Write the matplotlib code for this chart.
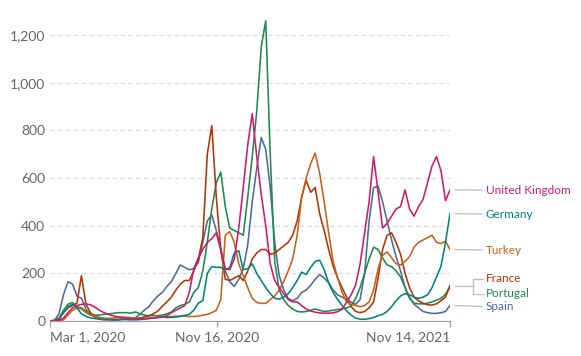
import matplotlib
matplotlib.use("Agg")
import matplotlib.pyplot as plt
import matplotlib.dates as mdates
import pandas as pd
import numpy as np
from matplotlib.lines import Line2D

plt.rcParams['font.family'] = ['Lato', 'DejaVu Sans']

# weekly dates, 2020-03-01 .. 2021-11-14
dates = pd.date_range("2020-03-01", periods=90, freq="7D")

spain = [0.5, 3, 30, 110, 165, 155, 105, 95, 50, 25, 20, 15, 8, 7, 7, 7, 8, 8, 9, 14,
         28, 45, 60, 85, 105, 120, 145, 165, 200, 235, 225, 215, 220, 245, 330, 420, 445, 380, 300, 210,
         165, 145, 175, 220, 320, 500, 640, 770, 720, 560, 330, 190, 130, 95, 85, 95, 120, 130, 150, 175,
         195, 180, 160, 130, 110, 100, 90, 80, 70, 90, 200, 420, 560, 565, 500, 420, 340, 270, 210, 140,
         100, 70, 55, 40, 35, 32, 32, 35, 40, 65]

uk = [0.1, 0.5, 3, 12, 35, 55, 65, 70, 72, 68, 58, 45, 35, 28, 22, 18, 14, 12, 10, 9,
      9, 10, 11, 13, 15, 17, 22, 35, 45, 55, 65, 120, 220, 265, 300, 330, 345, 370, 300, 220,
      215, 260, 390, 560, 740, 870, 690, 530, 400, 240, 170, 140, 115, 90, 80, 80, 65, 50, 42, 37,
      34, 33, 33, 34, 39, 49, 80, 110, 150, 240, 370, 500, 690, 540, 390, 410, 440, 470, 480, 550,
      470, 440, 480, 510, 580, 650, 690, 630, 505, 550]

germany = [0.1, 1, 6, 35, 60, 70, 55, 30, 20, 13, 10, 8, 7, 5, 4, 4, 6, 6, 5, 5,
           6, 8, 10, 13, 16, 17, 15, 15, 16, 20, 24, 28, 45, 75, 85, 200, 228, 225, 225, 215,
           225, 285, 295, 215, 220, 240, 200, 170, 140, 115, 95, 92, 100, 115, 140, 170, 205, 195, 225, 250,
           255, 215, 160, 120, 90, 65, 42, 25, 12, 8, 7, 10, 15, 22, 28, 40, 60, 85, 105, 115,
           110, 100, 95, 100, 110, 140, 185, 230, 330, 450]

portugal = [0, 0.5, 10, 45, 70, 78, 60, 55, 40, 30, 25, 25, 28, 30, 32, 35, 35, 35, 33, 38,
            30, 25, 22, 23, 22, 25, 30, 38, 55, 65, 70, 80, 120, 140, 210, 330, 470, 580, 625, 480,
            390, 380, 370, 360, 520, 690, 880, 1150, 1260, 700, 250, 130, 90, 65, 50, 40, 38, 40, 45, 50,
            45, 40, 42, 45, 48, 52, 55, 62, 95, 140, 200, 260, 310, 300, 265, 235, 228, 210, 185, 140,
            95, 75, 72, 72, 75, 80, 88, 95, 112, 145]

france = [0.5, 3, 12, 35, 55, 65, 75, 190, 70, 35, 15, 8, 5, 7, 6, 6, 7, 8, 8, 10,
          13, 17, 22, 30, 42, 62, 80, 100, 130, 155, 170, 170, 210, 260, 350, 700, 820, 520, 300, 175,
          170, 180, 190, 170, 210, 260, 285, 300, 300, 280, 285, 300, 315, 330, 360, 420, 520, 590, 540, 560,
          450, 380, 300, 230, 180, 140, 100, 60, 40, 35, 40, 55, 80, 180, 300, 360, 370, 330, 280, 200,
          140, 100, 85, 75, 68, 67, 72, 85, 100, 148]

turkey = [0, 0, 0.2, 5, 25, 45, 55, 50, 35, 25, 20, 15, 12, 11, 12, 16, 17, 15, 14, 13,
          11, 11, 12, 14, 14, 16, 18, 19, 20, 20, 20, 19, 19, 20, 25, 28, 35, 45, 90, 360,
          375, 330, 240, 190, 140, 95, 78, 74, 74, 90, 105, 130, 165, 210, 260, 360, 520, 600, 660, 705,
          620, 500, 370, 250, 180, 120, 80, 70, 65, 60, 65, 80, 130, 220, 275, 290, 265, 240, 235, 250,
          270, 310, 330, 340, 350, 360, 330, 325, 335, 300]

names = ["United Kingdom", "Germany", "Turkey", "France", "Portugal", "Spain"]
series = [uk, germany, turkey, france, portugal, spain]
colors = ["#CE1B6C", "#00847E", "#C8601E", "#B13507", "#1E8A4C", "#4C6A9C"]

yticks = [200, 400, 600, 800, 1000, 1200]
xtick_dates = ["2020-03-01", "2020-11-16", "2021-11-14"]
xtick_labels = ["Mar 1, 2020", "Nov 16, 2020", "Nov 14, 2021"]

W, H = 581, 356
fig = plt.figure(figsize=(W / 100, H / 100), dpi=100)
ax = fig.add_axes([50 / W, 35 / H, 400 / W, 309.8 / H])

draw_order = [5, 4, 3, 2, 1, 0]
for i in draw_order:
    ax.plot(dates, series[i], color=colors[i], lw=1.15, solid_joinstyle="round", zorder=3)

ax.set_xlim(dates[0], dates[-1])
ax.set_ylim(0, 1300)

for s in ["top", "right", "left"]:
    ax.spines[s].set_visible(False)
ax.spines["bottom"].set_color("#a0a0a0")
ax.spines["bottom"].set_linewidth(0.9)

ax.set_yticks([0] + yticks)
ax.set_yticklabels(["0"] + [f"{v:,}" for v in yticks])
ax.tick_params(axis="y", length=0, pad=3.5, labelsize=10, labelcolor="#666666")
for v in yticks:
    ax.axhline(v, color="#d9d9d9", lw=0.8, ls=(0, (4, 3)), zorder=1)

xt = pd.to_datetime(xtick_dates)
ax.set_xticks(xt)
ax.set_xticklabels(xtick_labels)
ax.tick_params(axis="x", length=4, width=0.9, color="#a0a0a0", pad=3, labelsize=10, labelcolor="#666666")
labs = ax.get_xticklabels()
labs[0].set_ha("left")
labs[-1].set_ha("right")

# labels to the right
fig.canvas.draw()
label_y_px = {"United Kingdom": 190, "Germany": 214, "Turkey": 250,
              "France": 279, "Portugal": 293.5, "Spain": 306.5}
x_line_start = 455
x_label = 486

def to_fig(xp, yp):
    return xp / W, 1 - yp / H

ends = {}
for n, s in zip(names, series):
    _, yd = ax.transData.transform((mdates.date2num(dates[-1]), s[-1]))
    ends[n] = H - yd

conn_color = "#bbbbbb"
for n in ["United Kingdom", "Germany", "Turkey", "Spain"]:
    x0, y0 = to_fig(x_line_start, ends[n])
    x1, y1 = to_fig(x_label - 4, label_y_px[n])
    fig.add_artist(Line2D([x0, x1], [y0, y1], color=conn_color, lw=0.9))

# bracket for France / Portugal
ym = (ends["France"] + ends["Portugal"]) / 2
xb = 472.5
pts = [(x_line_start, ym), (xb, ym)]
fig.add_artist(Line2D(*zip(*[to_fig(*p) for p in pts]), color=conn_color, lw=0.9))
fig.add_artist(Line2D(*zip(*[to_fig(xb, label_y_px["France"]), to_fig(xb, label_y_px["Portugal"])]),
                      color=conn_color, lw=0.9))
for n in ["France", "Portugal"]:
    fig.add_artist(Line2D(*zip(*[to_fig(xb, label_y_px[n]), to_fig(x_label - 3, label_y_px[n])]),
                          color=conn_color, lw=0.9))

for n, c in zip(names, colors):
    fx, fy = to_fig(x_label, label_y_px[n])
    fig.text(fx, fy, n, color=c, fontsize=8.5, ha="left", va="center")

fig.savefig("out.png", dpi=100)
